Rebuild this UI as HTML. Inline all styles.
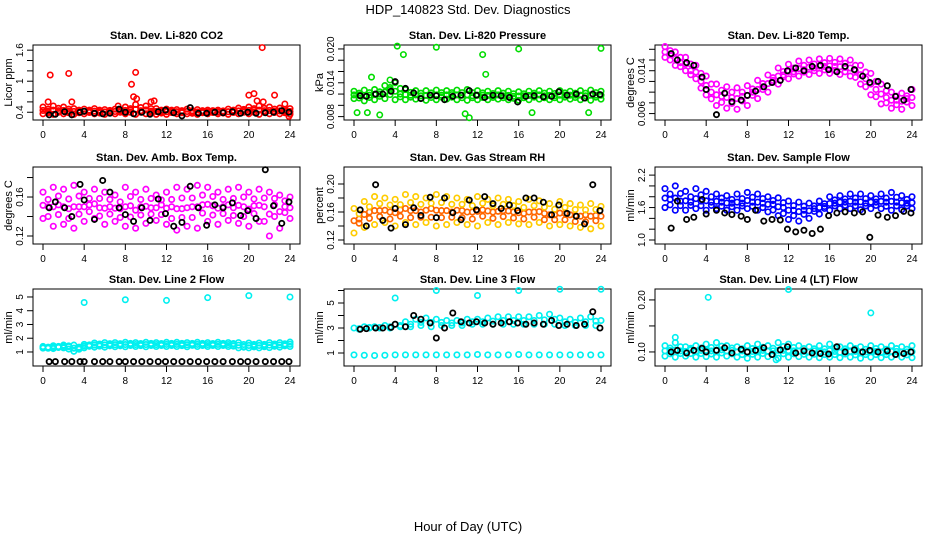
<!DOCTYPE html>
<html><head><meta charset="utf-8"><style>
html,body{margin:0;padding:0;background:#fff;}
svg{display:block;font-family:"Liberation Sans",sans-serif;}
</style></head><body>
<svg id="chart" width="936" height="540" viewBox="0 0 936 540">
<text x="468" y="14" text-anchor="middle" font-size="13">HDP_140823  Std. Dev. Diagnostics</text>
<text x="468" y="531" text-anchor="middle" font-size="13">Hour of Day (UTC)</text>
</svg>
<script>
const hours=[0,1,2,3,4,5,6,7,8,9,10,11,12,13,14,15,16,17,18,19,20,21,22,23,24];
const halfHours=[0.5,1.5,2.5,3.5,4.5,5.5,6.5,7.5,8.5,9.5,10.5,11.5,12.5,13.5,14.5,15.5,16.5,17.5,18.5,19.5,20.5,21.5,22.5,23.5];
const blackHours=[0.6,1.2,2.1,2.8,3.6,4.0,5.0,5.8,6.5,7.4,8.0,8.8,9.6,10.4,11.2,11.9,12.7,13.5,14.3,15.1,15.9,16.7,17.5,18.4,19.2,19.9,20.7,21.6,22.4,23.2,23.9];
const xTicks=[0,4,8,12,16,20,24];

// Panel 1: CO2
const co2Hi=[0.50,0.52,0.50,0.47,0.46,0.47,0.45,0.46,0.50,0.55,0.52,0.47,0.46,0.45,0.46,0.45,0.44,0.44,0.46,0.48,0.50,0.52,0.50,0.48,0.47];
const co2Mid=[0.42,0.43,0.42,0.41,0.42,0.41,0.42,0.43,0.44,0.43,0.42,0.41,0.42,0.41,0.40,0.41,0.42,0.41,0.42,0.43,0.44,0.43,0.42,0.42];
const co2Lo=[0.37,0.36,0.37,0.36,0.37,0.37,0.36,0.37,0.37,0.36,0.37,0.36,0.36,0.37,0.37,0.36,0.37,0.37,0.36,0.37,0.37,0.36,0.37,0.37,0.36];
const co2OutT=[0.5,0.7,2.5,2.8,7.3,8.6,9.0,8.8,9.1,10.5,10.8,20.0,20.5,20.8,21.3,21.4,22.5,23.5,23.9];
const co2OutV=[0.60,1.12,1.15,0.60,0.52,0.94,1.17,0.70,0.66,0.60,0.62,0.73,0.76,0.62,1.65,0.60,0.73,0.56,0.32];
const co2Black=[0.35,0.36,0.41,0.35,0.40,0.42,0.38,0.37,0.38,0.46,0.40,0.37,0.40,0.36,0.41,0.44,0.39,0.33,0.49,0.38,0.38,0.40,0.39,0.41,0.38,0.40,0.38,0.39,0.40,0.43,0.40];

// Panel 2: Pressure
const presHi=[0.0125,0.0127,0.0128,0.0135,0.0140,0.0128,0.0126,0.0126,0.0127,0.0126,0.0127,0.0128,0.0126,0.0125,0.0126,0.0125,0.0124,0.0125,0.0126,0.0125,0.0126,0.0125,0.0126,0.0127,0.0125];
const presMid=[0.0118,0.0118,0.0120,0.0128,0.0120,0.0118,0.0117,0.0118,0.0118,0.0119,0.0118,0.0117,0.0118,0.0117,0.0117,0.0116,0.0117,0.0118,0.0117,0.0117,0.0118,0.0118,0.0117,0.0118];
const presLo=[0.0112,0.0108,0.0110,0.0112,0.0110,0.0110,0.0111,0.0109,0.0110,0.0111,0.0110,0.0109,0.0110,0.0110,0.0111,0.0110,0.0109,0.0110,0.0111,0.0110,0.0110,0.0111,0.0110,0.0109,0.0111];
const presOutT=[4.2,4.8,8.0,12.5,12.8,16.0,24.0,0.3,1.3,2.5,11.2,10.8,17.3,22.8,3.5,1.7];
const presOutV=[0.0205,0.0190,0.0203,0.0190,0.0155,0.0200,0.0201,0.0087,0.0087,0.0083,0.0078,0.0085,0.0087,0.0087,0.0145,0.0150];
const presBlack=[0.0117,0.0116,0.0120,0.0120,0.0125,0.0142,0.0130,0.0122,0.0112,0.0118,0.0117,0.0110,0.0116,0.0118,0.0126,0.0118,0.0114,0.0118,0.0117,0.0114,0.0106,0.0116,0.0117,0.0115,0.0116,0.0124,0.0118,0.0120,0.0113,0.0120,0.0119];

// Panel 3: Li-820 Temp
const tempHi=[0.0185,0.0175,0.0165,0.0150,0.0130,0.0115,0.0110,0.0108,0.0112,0.0122,0.0132,0.0145,0.0152,0.0158,0.0160,0.0162,0.0163,0.0162,0.0160,0.0150,0.0135,0.0115,0.0100,0.0098,0.0105];
const tempMid=[0.0170,0.0155,0.0140,0.0120,0.0100,0.0092,0.0090,0.0092,0.0100,0.0110,0.0122,0.0132,0.0138,0.0142,0.0145,0.0148,0.0148,0.0146,0.0140,0.0125,0.0105,0.0090,0.0085,0.0088];
const tempLo=[0.0165,0.0150,0.0140,0.0125,0.0095,0.0075,0.0070,0.0068,0.0075,0.0088,0.0100,0.0115,0.0125,0.0130,0.0133,0.0135,0.0135,0.0133,0.0130,0.0115,0.0095,0.0078,0.0070,0.0068,0.0075];
const tempBlack=[0.0172,0.0160,0.0155,0.0150,0.0128,0.0105,0.0058,0.0098,0.0082,0.0085,0.0094,0.0102,0.0110,0.0118,0.0122,0.0140,0.0145,0.0140,0.0148,0.0150,0.0142,0.0138,0.0148,0.0142,0.0130,0.0118,0.0120,0.0112,0.0092,0.0085,0.0105];

// Panel 4: Amb Box Temp
const ambHi=[0.165,0.170,0.168,0.172,0.165,0.168,0.165,0.162,0.170,0.165,0.168,0.162,0.165,0.170,0.168,0.172,0.170,0.165,0.168,0.170,0.165,0.168,0.165,0.162,0.160];
const ambMid=[0.150,0.152,0.148,0.150,0.152,0.149,0.150,0.148,0.151,0.150,0.149,0.152,0.150,0.148,0.150,0.152,0.151,0.150,0.149,0.150,0.151,0.150,0.152,0.150];
const ambLo=[0.138,0.130,0.132,0.128,0.135,0.138,0.132,0.135,0.130,0.128,0.133,0.136,0.132,0.126,0.130,0.128,0.135,0.132,0.136,0.133,0.130,0.135,0.120,0.128,0.138];
const ambBlack=[0.149,0.155,0.149,0.140,0.173,0.157,0.137,0.177,0.165,0.149,0.142,0.135,0.149,0.136,0.158,0.143,0.130,0.134,0.171,0.149,0.131,0.152,0.149,0.154,0.141,0.146,0.138,0.188,0.151,0.133,0.155];

// Panel 5: Gas Stream RH
const rhHi=[0.165,0.175,0.182,0.180,0.178,0.185,0.182,0.180,0.185,0.182,0.180,0.178,0.182,0.178,0.180,0.178,0.175,0.178,0.176,0.172,0.175,0.172,0.170,0.172,0.168];
const rhMid=[0.150,0.160,0.162,0.160,0.163,0.162,0.160,0.165,0.162,0.160,0.162,0.160,0.163,0.160,0.162,0.160,0.158,0.160,0.158,0.156,0.158,0.155,0.156,0.155];
const rhLo=[0.130,0.138,0.142,0.145,0.140,0.145,0.142,0.145,0.140,0.142,0.145,0.142,0.140,0.145,0.142,0.145,0.143,0.142,0.145,0.140,0.142,0.140,0.138,0.136,0.140];
const rhBlack=[0.163,0.140,0.199,0.148,0.137,0.165,0.142,0.166,0.155,0.181,0.152,0.180,0.159,0.149,0.177,0.163,0.182,0.172,0.165,0.170,0.162,0.180,0.180,0.174,0.156,0.170,0.158,0.154,0.143,0.199,0.162];

// Panel 6: Sample Flow
const flowHi=[1.95,2.00,1.90,1.95,1.90,1.85,1.82,1.85,1.88,1.85,1.80,1.78,1.72,1.70,1.68,1.72,1.80,1.82,1.85,1.85,1.82,1.85,1.88,1.82,1.80];
const flowMid=[1.75,1.72,1.70,1.72,1.70,1.70,1.68,1.68,1.70,1.68,1.66,1.60,1.55,1.55,1.58,1.62,1.68,1.70,1.70,1.68,1.70,1.70,1.70,1.68];
const flowLo=[1.60,1.55,1.55,1.58,1.55,1.58,1.55,1.55,1.58,1.55,1.52,1.45,1.38,1.35,1.40,1.48,1.55,1.58,1.58,1.56,1.58,1.58,1.55,1.56,1.58];
const flowBlack=[1.22,1.72,1.38,1.42,1.75,1.48,1.55,1.50,1.47,1.44,1.38,1.55,1.35,1.38,1.37,1.20,1.15,1.18,1.12,1.20,1.45,1.50,1.52,1.50,1.52,1.05,1.46,1.42,1.45,1.53,1.50];

// Panel 7: Line 2 Flow
const l2Hi=[1.40,1.45,1.50,1.50,1.55,1.65,1.68,1.68,1.70,1.68,1.70,1.68,1.70,1.70,1.68,1.70,1.68,1.70,1.68,1.68,1.65,1.65,1.68,1.68,1.72];
const l2Mid=[1.30,1.35,1.38,1.20,1.48,1.50,1.52,1.52,1.55,1.55,1.55,1.55,1.55,1.55,1.56,1.55,1.55,1.55,1.55,1.40,1.45,1.45,1.48,1.50];
const l2Lo=[1.28,1.25,1.30,1.05,1.30,1.35,1.35,1.38,1.38,1.40,1.38,1.40,1.40,1.40,1.38,1.40,1.40,1.40,1.40,1.30,1.30,1.30,1.32,1.35,1.40];
const l2OutT=[4,8,12,16,20,24];
const l2OutV=[4.6,4.8,4.75,4.95,5.1,5.0];
const l2Black=[0.3,0.3,0.3,0.3,0.3,0.3,0.3,0.3,0.3,0.3,0.3,0.3,0.3,0.3,0.3,0.3,0.3,0.3,0.3,0.3,0.3,0.3,0.3,0.3,0.3,0.3,0.3,0.3,0.3,0.3,0.3];

// Panel 8: Line 3 Flow
const l3Hi=[3.0,3.1,3.1,3.2,3.3,3.5,3.7,3.8,3.7,3.6,3.6,3.7,3.7,3.8,3.9,3.9,3.9,3.9,4.0,4.1,3.8,3.7,3.8,3.9,3.6];
const l3Mid=[2.9,3.0,3.0,3.0,3.1,3.1,3.2,3.1,3.2,3.2,3.2,3.3,3.3,3.3,3.3,3.3,3.3,3.3,3.3,3.3,3.2,3.2,3.2,3.2];
const l3Lo=[0.85,0.82,0.80,0.82,0.85,0.85,0.85,0.85,0.85,0.85,0.85,0.85,0.88,0.85,0.85,0.85,0.88,0.85,0.85,0.85,0.85,0.85,0.85,0.85,0.85];
const l3OutT=[4,8,12,16,20,24];
const l3OutV=[5.4,6.0,5.6,6.0,6.1,6.1];
const l3Black=[2.9,2.95,3.0,3.0,3.05,3.3,3.1,4.0,3.7,3.4,2.2,3.0,4.2,3.5,3.4,3.5,3.4,3.3,3.4,3.5,3.4,3.3,3.4,3.3,3.6,3.2,3.3,3.2,3.3,4.3,3.0];

// Panel 9: Line 4 (LT) Flow
const l4Hi=[0.112,0.118,0.110,0.112,0.115,0.118,0.112,0.110,0.112,0.115,0.112,0.118,0.115,0.112,0.110,0.112,0.115,0.110,0.112,0.110,0.112,0.110,0.112,0.110,0.112];
const l4Mid=[0.103,0.102,0.104,0.103,0.102,0.104,0.103,0.102,0.101,0.103,0.102,0.103,0.102,0.101,0.102,0.100,0.101,0.102,0.101,0.100,0.101,0.100,0.101,0.100];
const l4Lo=[0.092,0.090,0.092,0.090,0.091,0.090,0.092,0.090,0.088,0.090,0.091,0.088,0.090,0.091,0.090,0.089,0.090,0.089,0.090,0.088,0.090,0.089,0.090,0.090,0.089];
const l4OutT=[4.2,12.0,20.0,1.0,10.8];
const l4OutV=[0.205,0.220,0.175,0.128,0.085];
const l4Black=[0.100,0.103,0.098,0.103,0.107,0.100,0.103,0.108,0.098,0.105,0.100,0.103,0.108,0.095,0.104,0.110,0.098,0.102,0.098,0.097,0.096,0.110,0.100,0.104,0.100,0.103,0.100,0.102,0.095,0.097,0.100];

const NS='http://www.w3.org/2000/svg';
const svg=document.getElementById('chart');
function mk(tag,attrs,parent){const e=document.createElementNS(NS,tag);for(const k in attrs)e.setAttribute(k,attrs[k]);(parent||svg).appendChild(e);return e;}

function panel(p){
  const g=mk('g',{});
  
  
  const L=p.box[0],R=p.box[1],T=p.box[2],B=p.box[3];
  const xs=h=>L+10+h/24*(R-L-20);
  const ys=v=>B-(v-p.dom[0])/(p.dom[1]-p.dom[0])*(B-T);
  const t=mk('text',{x:(L+R)/2,y:T-6,'text-anchor':'middle','font-size':11,'font-weight':'bold'},g);
  t.textContent=p.title;
  
  
  const fr=mk('rect',{x:L,y:T,width:R-L,height:B-T,fill:'none',stroke:'#000','stroke-width':1},g);
  
  
  xTicks.forEach(h=>{
    mk('line',{x1:xs(h),x2:xs(h),y1:B,y2:B+6,stroke:'#000'},g);
    const tl=mk('text',{x:xs(h),y:B+18,'text-anchor':'middle','font-size':10},g);
    tl.textContent=h;
    
    
  });
  p.yTicks.forEach(v=>{mk('line',{x1:L-6,x2:L,y1:ys(v),y2:ys(v),stroke:'#000'},g);});
  p.yLabels.forEach(v=>{
    const yl=mk('text',{x:0,y:0,'text-anchor':'middle','font-size':10,transform:`translate(${L-10},${ys(v)}) rotate(-90)`},g);
    yl.textContent=v;
    
    
  });
  const yt=mk('text',{x:0,y:0,'text-anchor':'middle','font-size':11,transform:`translate(${L-21},${(T+B)/2}) rotate(-90)`},g);
  yt.textContent=p.ylab;
  
  
  const pts=mk('g',{},g);
  
  
  function series(tArr,vArr,color,r,sw){
    vArr.forEach((v,i)=>{
      const c=mk('circle',{cx:xs(tArr[i]),cy:ys(v),r:r,fill:'none',stroke:color,'stroke-width':sw},pts);
      
      
    });
  }
  const c2=p.color2||p.color;
  series(hours,p.hi,p.color,2.7,1.7);
  series(halfHours,p.mid,c2,2.7,1.7);
  series(hours,p.lo,p.color,2.7,1.7);
  // filler between rows for density
  series(halfHours,p.mid.map((v,i)=>(v+p.hi[i])/2),p.color,2.7,1.7);
  if(!p.noLoFill){
    series(halfHours,p.mid.map((v,i)=>(v+p.lo[i+1])/2),c2,2.7,1.7);
    series(hours,p.hi.map((v,i)=>(v+p.lo[i])/2),c2,2.7,1.7);
  }
  if(p.outT)series(p.outT,p.outV,p.color,2.7,1.6);
  series(blackHours,p.black,'#000',2.6,1.8);
}

panel({name:'panel-co2',title:'Stan. Dev. Li-820 CO2',ylab:'Licor ppm',box:[33,300,45,120],dom:[0.25,1.7],
  yTicks:[0.4,0.6,0.8,1.0,1.2,1.4,1.6],yLabels:[0.4,1.0,1.6],color:'#f00',hi:co2Hi,mid:co2Mid,lo:co2Lo,outT:co2OutT,outV:co2OutV,black:co2Black});
panel({name:'panel-pressure',title:'Stan. Dev. Li-820 Pressure',ylab:'kPa',box:[344,611,45,120],dom:[0.0074,0.0207],
  yTicks:[0.008,0.010,0.012,0.014,0.016,0.018,0.020],yLabels:['0.008','0.014','0.020'],color:'#00dd00',hi:presHi,mid:presMid,lo:presLo,outT:presOutT,outV:presOutV,black:presBlack});
panel({name:'panel-temp',title:'Stan. Dev. Li-820 Temp.',ylab:'degrees C',box:[655,922,45,120],dom:[0.0048,0.0188],
  yTicks:[0.006,0.008,0.010,0.012,0.014,0.016,0.018],yLabels:['0.006','0.014'],color:'#ff00ff',hi:tempHi,mid:tempMid,lo:tempLo,black:tempBlack});
panel({name:'panel-amb-box',title:'Stan. Dev. Amb. Box Temp.',ylab:'degrees C',box:[33,300,167,244],dom:[0.1118,0.1908],
  yTicks:[0.12,0.14,0.16,0.18],yLabels:['0.12','0.16'],color:'#ff00ff',hi:ambHi,mid:ambMid,lo:ambLo,black:ambBlack});
panel({name:'panel-rh',title:'Stan. Dev. Gas Stream RH',ylab:'percent',box:[344,611,167,244],dom:[0.1143,0.2243],
  yTicks:[0.12,0.14,0.16,0.18,0.20],yLabels:['0.12','0.16','0.20'],color:'#ffcc00',color2:'#ff6600',hi:rhHi,mid:rhMid,lo:rhLo,black:rhBlack});
panel({name:'panel-sample-flow',title:'Stan. Dev. Sample Flow',ylab:'ml/min',box:[655,922,167,244],dom:[0.926,2.35],
  yTicks:[1.0,1.2,1.4,1.6,1.8,2.0,2.2],yLabels:['1.0','1.6','2.2'],color:'#0000ff',hi:flowHi,mid:flowMid,lo:flowLo,black:flowBlack});
panel({name:'panel-line2',title:'Stan. Dev. Line 2 Flow',ylab:'ml/min',box:[33,300,289,366],dom:[-0.02,5.58],
  yTicks:[1,2,3,4,5],yLabels:[1,2,3,4,5],color:'#00f0f0',hi:l2Hi,mid:l2Mid,lo:l2Lo,outT:l2OutT,outV:l2OutV,black:l2Black});
panel({name:'panel-line3',title:'Stan. Dev. Line 3 Flow',ylab:'ml/min',box:[344,611,289,366],dom:[-0.04,6.12],noLoFill:true,
  yTicks:[1,2,3,4,5,6],yLabels:[1,3,5],color:'#00f0f0',hi:l3Hi,mid:l3Mid,lo:l3Lo,outT:l3OutT,outV:l3OutV,black:l3Black});
panel({name:'panel-line4',title:'Stan. Dev. Line 4 (LT) Flow',ylab:'ml/min',box:[655,922,289,366],dom:[0.073,0.221],
  yTicks:[0.10,0.15,0.20],yLabels:['0.10','0.20'],color:'#00f0f0',hi:l4Hi,mid:l4Mid,lo:l4Lo,outT:l4OutT,outV:l4OutV,black:l4Black});
</script>
</body></html>
